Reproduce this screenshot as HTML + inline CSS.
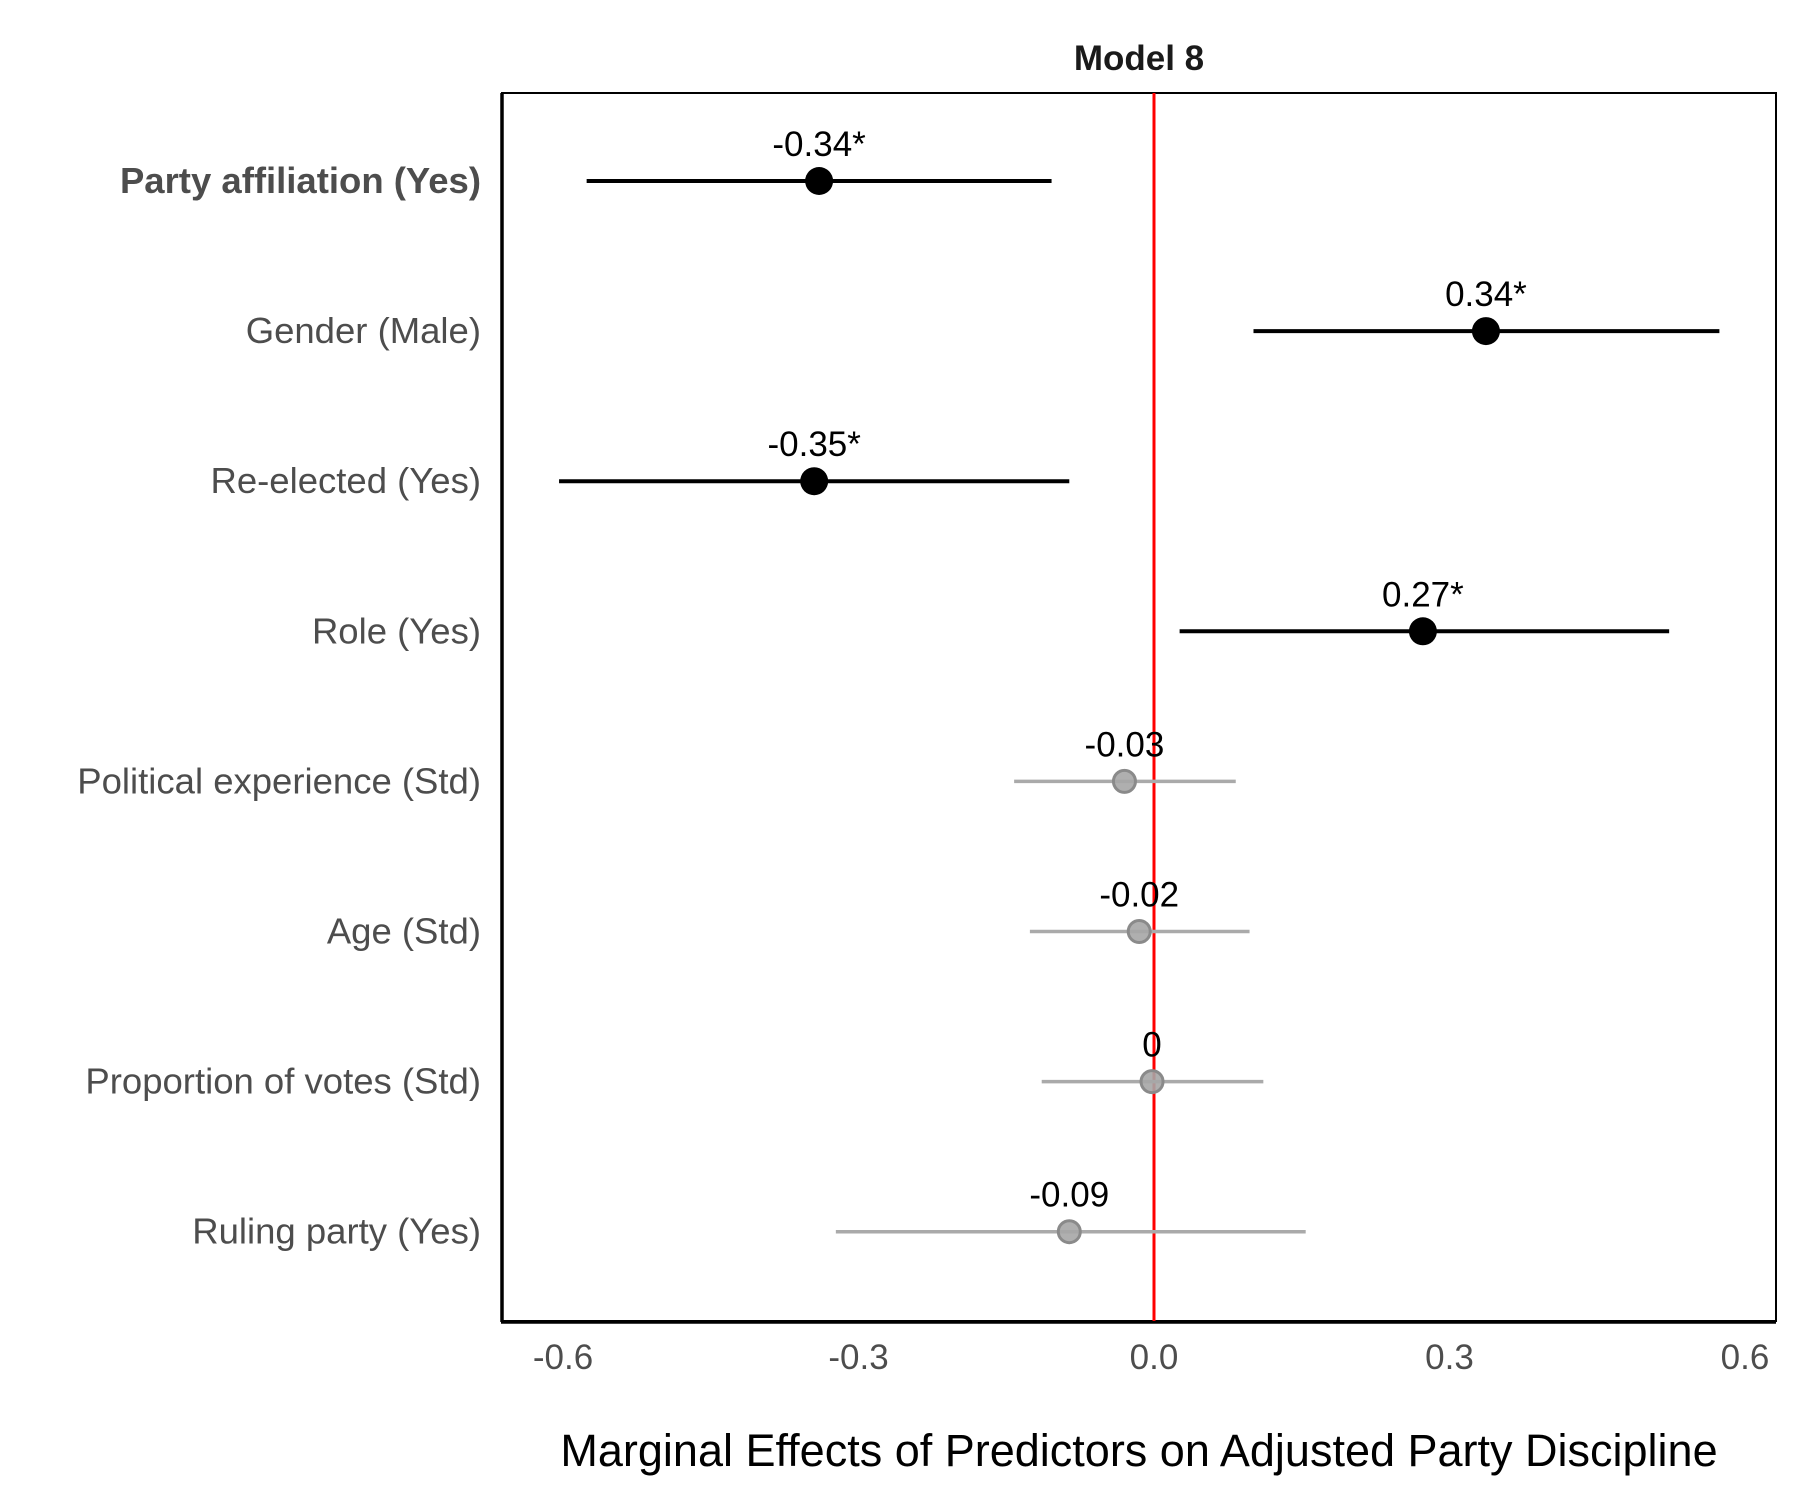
<!DOCTYPE html>
<html><head><meta charset="utf-8"><style>
body{margin:0;background:#fff;}
svg{display:block;font-family:"Liberation Sans",Arial,sans-serif;}
</style></head><body>
<svg id="chart" width="1800" height="1500" viewBox="0 0 1800 1500">
<text x="1139" y="70" text-anchor="middle" font-size="35" font-weight="bold" fill="#1a1a1a">Model 8</text>
<rect x="502" y="93" width="1274" height="1228" fill="none" stroke="#000" stroke-width="2"/>
<line x1="502" y1="93" x2="502" y2="1322" stroke="#000" stroke-width="3.5"/>
<line x1="501" y1="1322" x2="1776" y2="1322" stroke="#000" stroke-width="3.5"/>
<g id="ticks"></g>
<g id="marks"></g>
<text x="1139" y="1466" text-anchor="middle" font-size="45" fill="#000">Marginal Effects of Predictors on Adjusted Party Discipline</text>
</svg>
<script>
const categories=["Party affiliation (Yes)","Gender (Male)","Re-elected (Yes)","Role (Yes)","Political experience (Std)","Age (Std)","Proportion of votes (Std)","Ruling party (Yes)"];
const estimates=[-0.34,0.337,-0.345,0.273,-0.03,-0.015,-0.002,-0.086];
const lower=[-0.576,0.101,-0.604,0.026,-0.142,-0.126,-0.114,-0.323];
const upper=[-0.104,0.574,-0.086,0.523,0.083,0.097,0.111,0.154];
const valueLabels=["-0.34*","0.34*","-0.35*","0.27*","-0.03","-0.02","0","-0.09"];
const significant=[true,true,true,true,false,false,false,false];
const xTicks=[-0.6,-0.3,0.0,0.3,0.6];
const xTickLabels=["-0.6","-0.3","0.0","0.3","0.6"];
const NS="http://www.w3.org/2000/svg";
const xScale=v=>1154+v*(591/0.6);
const yScale=i=>181+i*150.1;
function mk(tag,attrs,parent){const e=document.createElementNS(NS,tag);for(const k in attrs)e.setAttribute(k,attrs[k]);parent.appendChild(e);return e;}
const tg=document.getElementById('ticks');
xTicks.forEach((t,i)=>{
  const tx=mk('text',{x:xScale(t),y:1369,'text-anchor':'middle','font-size':35,fill:'#4d4d4d'},tg);
  tx.textContent=xTickLabels[i];
  
  
});
categories.forEach((c,i)=>{
  const tx=mk('text',{x:481,y:yScale(i)+12,'text-anchor':'end','font-size':36.5,fill:'#4d4d4d'},tg);
  if(i===0)tx.setAttribute('font-weight','bold');
  tx.textContent=c;
  
  
});
const mg=document.getElementById('marks');
const zl=mk('line',{x1:xScale(0),y1:93,x2:xScale(0),y2:1321,stroke:'#ff0000','stroke-width':3},mg);


categories.forEach((c,i)=>{
  const y=yScale(i),sig=significant[i];
  const col=sig?'#000':'#aaaaaa';
  const ln=mk('line',{x1:xScale(lower[i]),y1:y,x2:xScale(upper[i]),y2:y,stroke:col,'stroke-width':sig?4:3.5},mg);
  
  
  const pt=sig?mk('circle',{cx:xScale(estimates[i]),cy:y,r:14,fill:'#000'},mg)
             :mk('circle',{cx:xScale(estimates[i]),cy:y,r:11,fill:'#a6a6a6',stroke:'#8a8a8a','stroke-width':3,'fill-opacity':0.9},mg);
  
  
  const lb=mk('text',{x:xScale(estimates[i]),y:y-25,'text-anchor':'middle','font-size':35,fill:'#000'},mg);
  lb.textContent=valueLabels[i];
  
  
});
</script>
</body></html>
